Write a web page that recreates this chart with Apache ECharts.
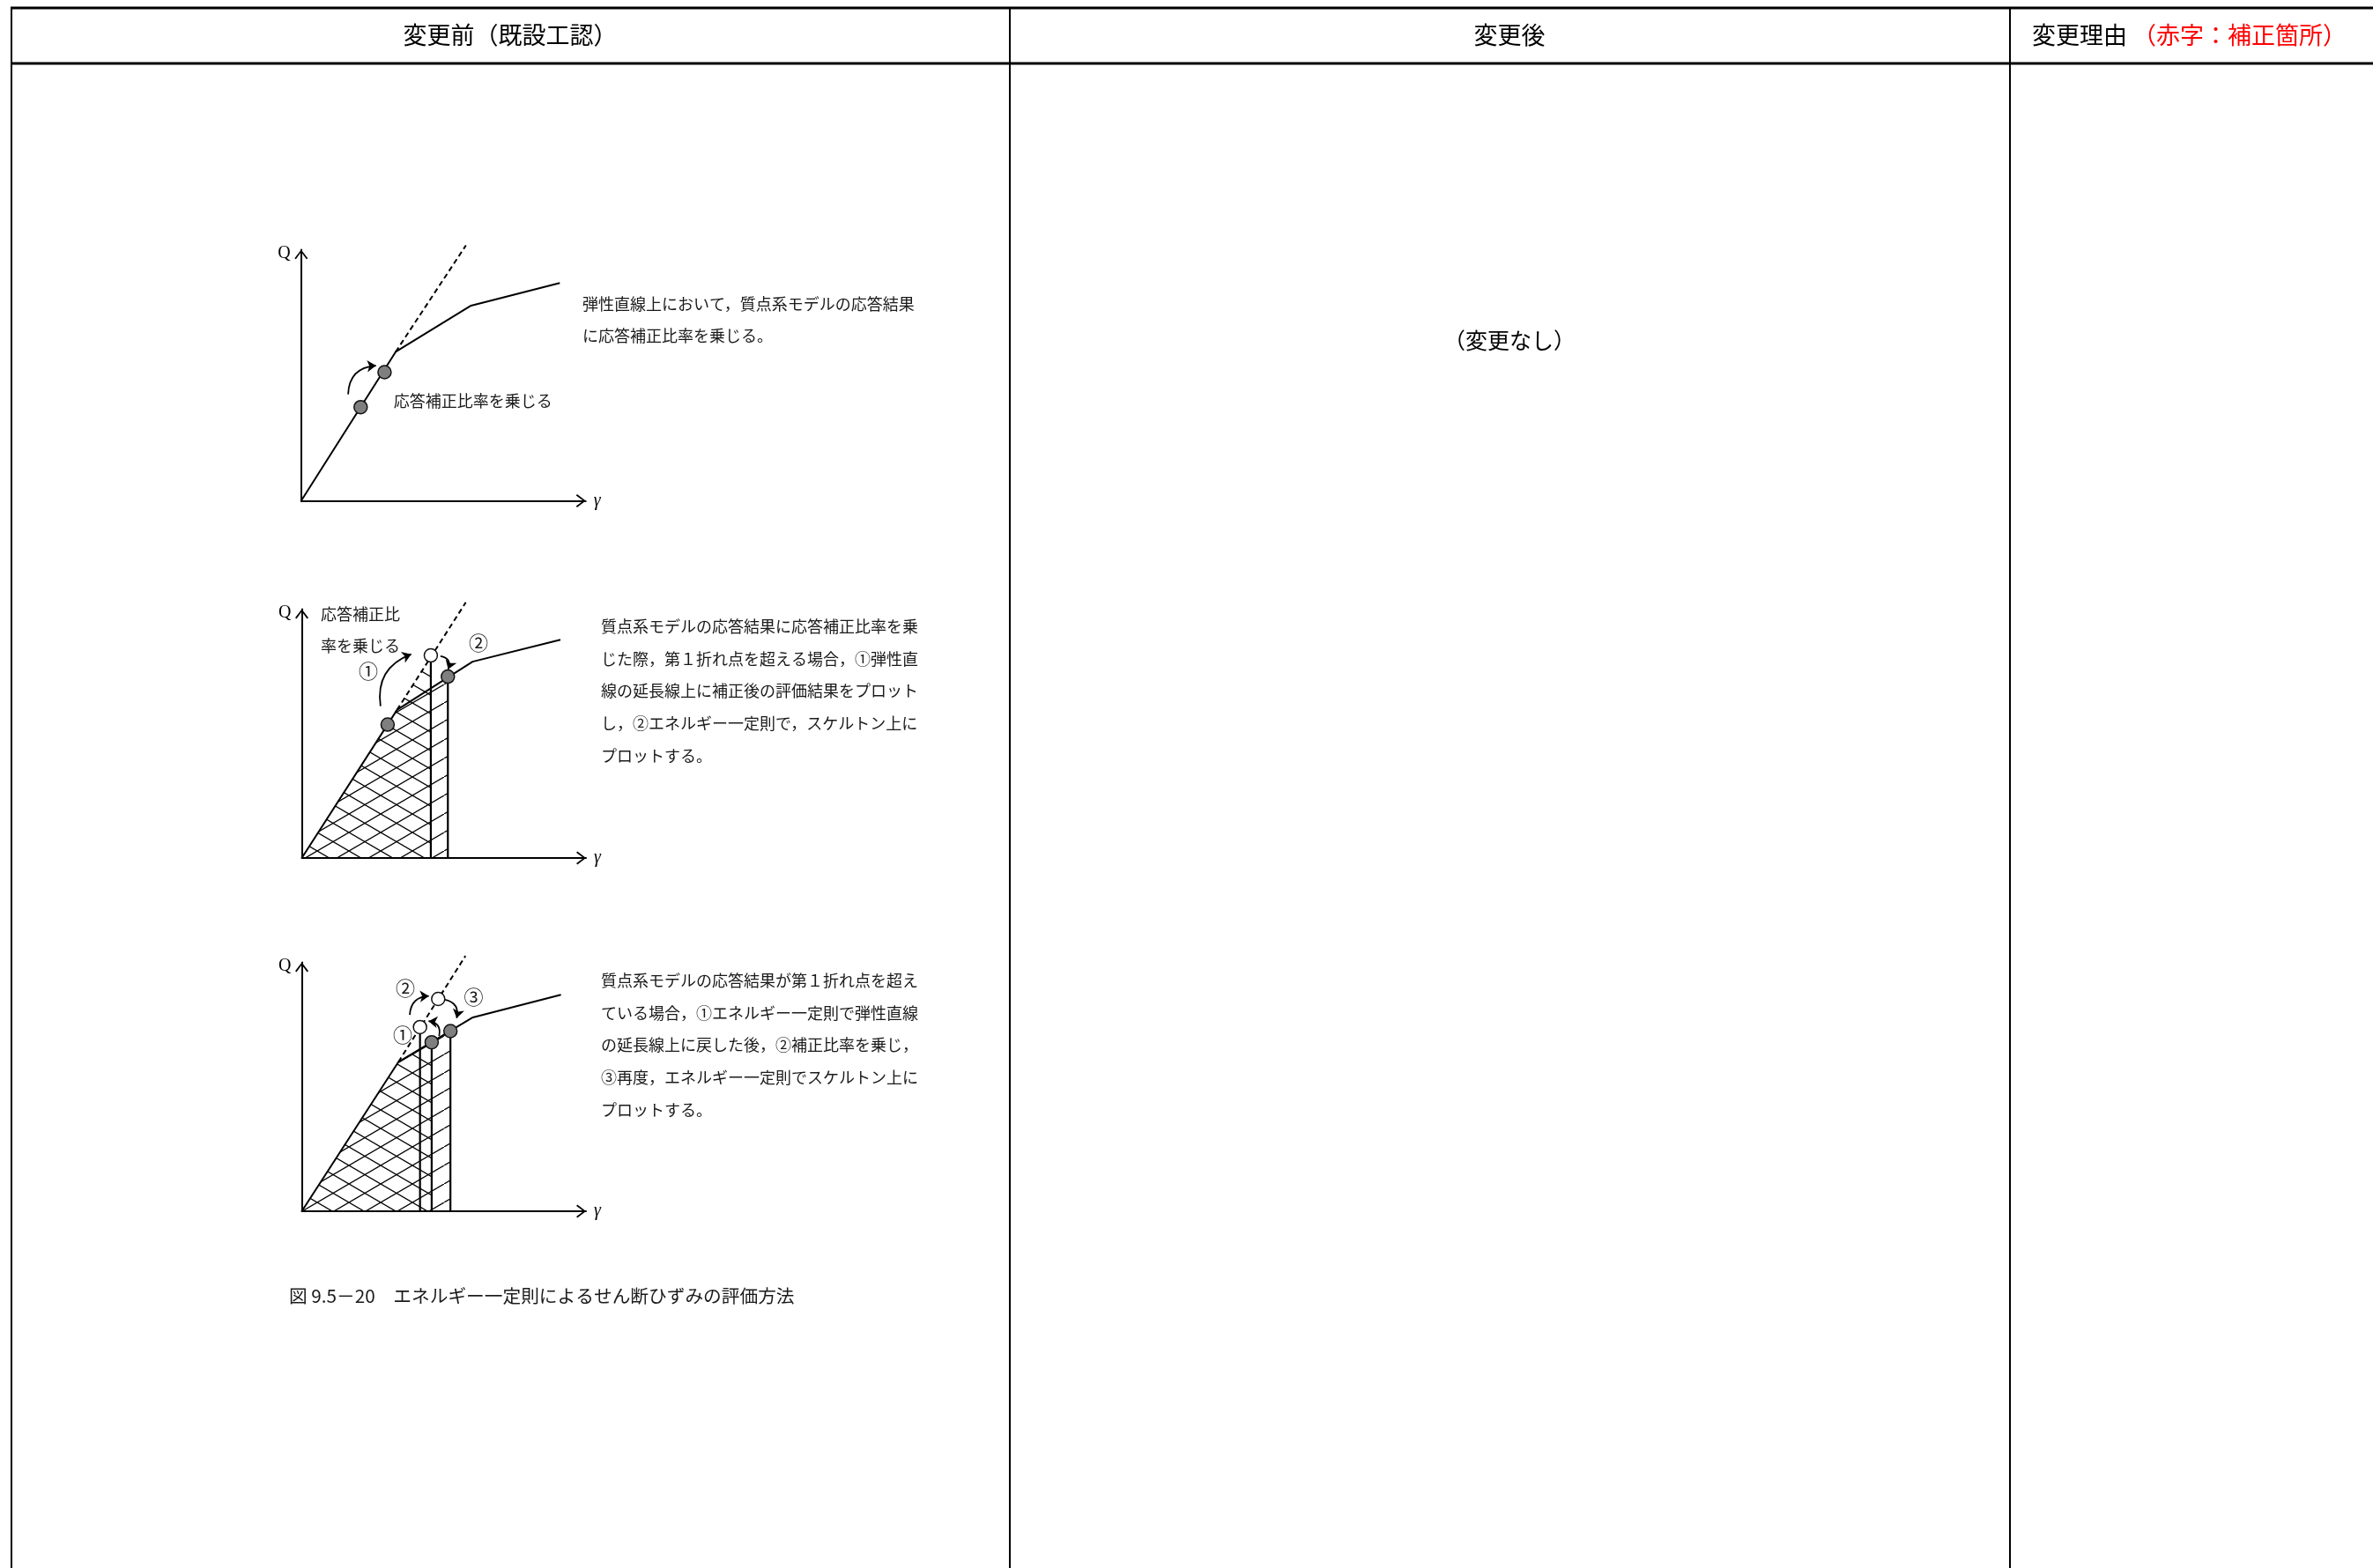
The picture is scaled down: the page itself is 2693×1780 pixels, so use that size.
<!DOCTYPE html>
<html><head><meta charset="utf-8">
<script src="https://cdn.jsdelivr.net/npm/echarts@6/dist/echarts.min.js"></script>
<style>html,body{margin:0;padding:0;background:#fff}#c{width:2693px;height:1780px}</style>
</head><body><div id="c"></div>
<script>
// ---------- data (γ, Q in relative units: 0–100 of each axis) ----------
// Diagram 1
const d1Skeleton   = [[0,0],[33.2,59.3],[59.7,77.7],[90.9,86.7]];
const d1ElasticExt = [[33.2,59.3],[57.9,101.7]];
const d1Gray       = [[20.9,37.3],[29.3,51.2]];
const d1Arrow      = [[16.5,42.4],[26.3,53.8]];
// Diagram 2
const d2Skeleton   = [[0,0],[33.5,59.5],[60.1,78.9],[91.0,87.7]];
const d2ElasticExt = [[33.5,59.5],[57.7,102.7]];
const d2Gray       = [[30.2,53.6],[51.4,72.9]];
const d2White      = [[45.4,81.4]];
const d2Arrow1     = [[27.7,61.0],[38.5,81.9]];
const d2Arrow2     = [[48.8,81.1],[51.5,75.8]];
// Diagram 3
const d3Skeleton   = [[0,0],[34.0,60.0],[60.2,77.9],[91.2,87.0]];
const d3ElasticExt = [[34.0,60.0],[57.6,102.6]];
const d3Gray       = [[45.7,67.9],[52.3,72.4]];   // C (original), D (final)
const d3White      = [[41.6,74.0],[48.0,85.3]];   // A (step 1), B (step 2)
const d3Arrow1     = [[48.3,70.4],[44.6,76.4]];
const d3Arrow2     = [[38.0,78.9],[44.7,86.5]];
const d3Arrow3     = [[50.4,85.0],[54.5,77.6]];
// Texts
const headers = ['変更前（既設工認）','変更後','変更理由','（赤字：補正箇所）'];
const noChange = '（変更なし）';
const d1Text = ['弾性直線上において，質点系モデルの応答結果','に応答補正比率を乗じる。'];
const d2Text = ['質点系モデルの応答結果に応答補正比率を乗','じた際，第１折れ点を超える場合，①弾性直','線の延長線上に補正後の評価結果をプロット','し，②エネルギー一定則で，スケルトン上に','プロットする。'];
const d3Text = ['質点系モデルの応答結果が第１折れ点を超え','ている場合，①エネルギー一定則で弾性直線','の延長線上に戻した後，②補正比率を乗じ，','③再度，エネルギー一定則でスケルトン上に','プロットする。'];
const caption = '図 9.5－20　エネルギー一定則によるせん断ひずみの評価方法';

// ---------- helpers ----------
const JP = '"Noto Sans CJK JP"';
const INK = '#1a1a1a';
function hatch(dir){
  const w=36,h=21,c=document.createElement('canvas');c.width=w;c.height=h;
  const g=c.getContext('2d');g.strokeStyle='#000';g.lineWidth=1.3;g.beginPath();
  if(dir>0){g.moveTo(-1,h+h/w);g.lineTo(w+1,-h/w);}else{g.moveTo(-1,-h/w);g.lineTo(w+1,h+h/w);}
  g.stroke();return c;
}
const patA = hatch(-1), patB = hatch(1);
const CHEV = 'path://M10,0 L20,13 L18,14.6 L10,3.6 L2,14.6 L0,13 Z M10,-14.6 L10.01,-14.6 L10.01,-14.59 Z';
const grids = [
  {left:341.8, top:283.4, width:322.9, height:285.1},
  {left:342.5, top:691.5, width:322.5, height:282.5},
  {left:342.5, top:1092.5, width:322.5, height:282.5}
];
const axisBase = {type:'value',min:0,max:100,axisTick:{show:false},axisLabel:{show:false},splitLine:{show:false},
  axisLine:{show:true,onZero:false,lineStyle:{color:'#000',width:2},symbol:['none',CHEV],symbolSize:[15,22]}};
const xAxes = grids.map((g,i)=>Object.assign({},axisBase,{gridIndex:i,name:'γ',nameLocation:'end',nameGap:9,
  nameTextStyle:{fontFamily:'Liberation Serif',fontStyle:'italic',fontSize:20,color:'#000',align:'left',verticalAlign:'middle'}}));
const yAxes = grids.map((g,i)=>Object.assign({},axisBase,{gridIndex:i,name:'Q',nameLocation:'end',nameGap:-4,
  nameTextStyle:{fontFamily:'Liberation Serif',fontSize:20,color:'#000',align:'right',verticalAlign:'middle',padding:[0,12,0,0]}}));

function lineS(g,data,ls,extra){return Object.assign({type:'line',xAxisIndex:g,yAxisIndex:g,data:data,symbol:'none',silent:true,clip:false,
  lineStyle:Object.assign({color:'#000',width:2},ls||{}),z:3},extra||{});}
function areaS(g,data,pat){return lineS(g,data,{width:0,opacity:0},{areaStyle:{color:{image:pat,repeat:'repeat'},opacity:1},z:1});}
function vertS(g,p){return lineS(g,[[p[0],0],p],{width:2.2},{z:2});}
function ptS(g,data,fill){return {type:'scatter',xAxisIndex:g,yAxisIndex:g,data:data,symbolSize:15,silent:true,clip:false,
  itemStyle:{color:fill,borderColor:'#111',borderWidth:1.5,opacity:1},z:6};}
function arrS(g,pts,c){return {type:'lines',coordinateSystem:'cartesian2d',xAxisIndex:g,yAxisIndex:g,silent:true,clip:false,
  data:[{coords:pts}],symbol:['none','arrow'],symbolSize:10,lineStyle:{color:'#000',width:1.8,curveness:c,opacity:1},z:5};}

const series = [
  // diagram 1
  lineS(0,d1Skeleton),
  lineS(0,d1ElasticExt,{type:[6,4]}),
  ptS(0,d1Gray,'#7f7f7f'),
  arrS(0,d1Arrow,0.45),
  // diagram 2
  areaS(1,[[0,0],d2White[0]],patA),
  areaS(1,[d2Skeleton[0],d2Skeleton[1],d2Gray[1]],patB),
  vertS(1,d2White[0]), vertS(1,d2Gray[1]),
  lineS(1,d2Skeleton),
  lineS(1,d2ElasticExt,{type:[6,4]}),
  ptS(1,d2Gray,'#7f7f7f'), ptS(1,d2White,'#ffffff'),
  arrS(1,d2Arrow1,0.4), arrS(1,d2Arrow2,0.6),
  // diagram 3
  areaS(2,[d3Skeleton[0],d3Skeleton[1],d3Gray[0]],patA),
  areaS(2,[d3Skeleton[0],d3Skeleton[1],d3Gray[1]],patB),
  vertS(2,d3White[0]), vertS(2,d3Gray[0]), vertS(2,d3Gray[1]),
  lineS(2,d3Skeleton),
  lineS(2,d3ElasticExt,{type:[6,4]}),
  ptS(2,d3Gray,'#7f7f7f'), ptS(2,d3White,'#ffffff'),
  arrS(2,d3Arrow1,-0.55), arrS(2,d3Arrow2,0.45), arrS(2,d3Arrow3,0.5)
];

function T(x,y,text,size,opt){opt=opt||{};return {type:'text',x:x,y:y,silent:true,z:10,
  style:{text:text,font:(opt.style||'')+' '+size+'px '+(opt.family||JP),fill:opt.color||INK,
  textAlign:opt.align||'left',textVerticalAlign:'middle'}};}
function L(x1,y1,x2,y2,w){return {type:'line',silent:true,z:10,shape:{x1:x1,y1:y1,x2:x2,y2:y2},style:{stroke:'#000',lineWidth:w}};}

const graphic = [
  L(12,9,2693,9,3), L(12,72,2693,72,3),
  L(13,9,13,1780,2), L(1146,9,1146,1780,2), L(2281,9,2281,1780,2),
  T(579,40,headers[0],27,{align:'center',color:'#000'}),
  T(1713,40,headers[1],27,{align:'center',color:'#000'}),
  T(2306,40,headers[2],27,{color:'#000'}),
  T(2420,40,headers[3],27,{color:'#ff0000'}),
  T(1713,386,noChange,25,{align:'center',color:'#000'}),
  T(446.7,455,'応答補正比率を乗じる',18),
  T(364,697.5,'応答補正比',18),
  T(364,733.5,'率を乗じる',18),
  T(418,762,'①',22,{align:'center'}),
  T(543,730,'②',22,{align:'center'}),
  T(460,1121.5,'②',22,{align:'center'}),
  T(537.5,1132,'③',22,{align:'center'}),
  T(457,1175,'①',22,{align:'center'}),
  T(328,1471,caption,20.7)
];
d1Text.forEach((s,i)=>graphic.push(T(661,345.5+i*36,s,18)));
d2Text.forEach((s,i)=>graphic.push(T(682,711+i*36.8,s,18)));
d3Text.forEach((s,i)=>graphic.push(T(682,1113+i*36.8,s,18)));

const chart = echarts.init(document.getElementById('c'),null,{renderer:'canvas'});
chart.setOption({animation:false,backgroundColor:'#fff',grid:grids,xAxis:xAxes,yAxis:yAxes,series:series,graphic:graphic});
</script></body></html>
